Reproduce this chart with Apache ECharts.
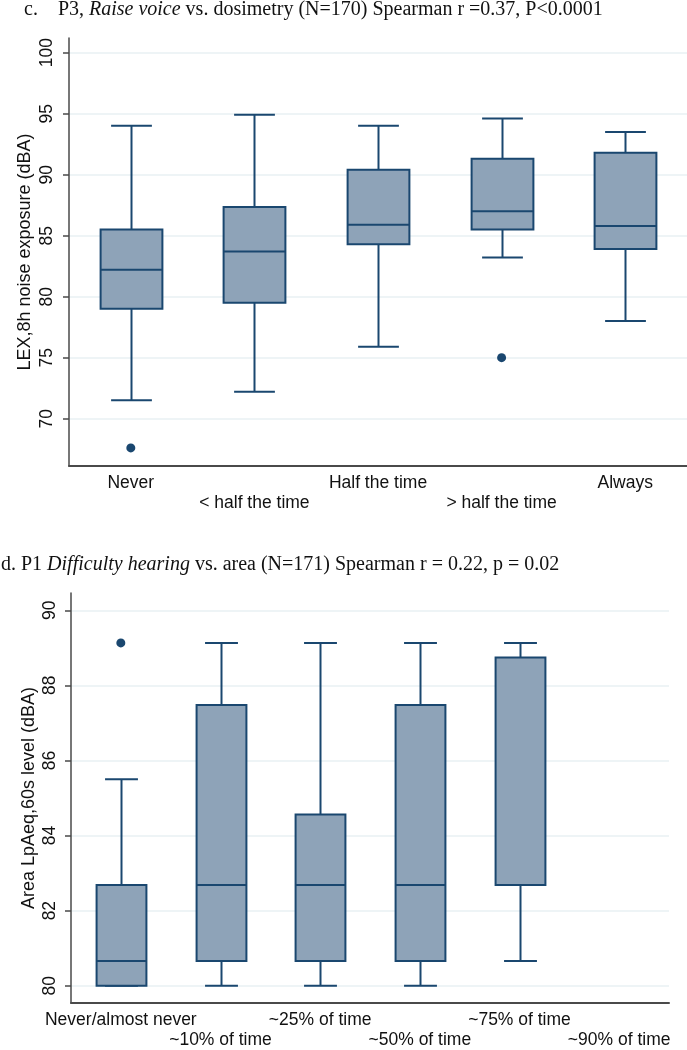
<!DOCTYPE html>
<html>
<head>
<meta charset="utf-8">
<script src="https://cdn.jsdelivr.net/npm/echarts@6/dist/echarts.min.js"></script>
<style>
html,body{margin:0;padding:0;background:#fff;}
#chart{width:687px;height:1050px;}
</style>
</head>
<body>
<div id="chart"></div>
<script>
// ---- Panel c: Raise voice vs. dosimetry ----
const topCategories = ['Never', '< half the time', 'Half the time', '> half the time', 'Always'];
const topMin    = [71.5, 72.2, 75.9, 83.2, 78.0];
const topQ1     = [79.0, 79.5, 84.3, 85.5, 83.9];
const topMedian = [82.2, 83.7, 85.9, 87.0, 85.8];
const topQ3     = [85.5, 87.35, 90.4, 91.3, 91.8];
const topMax    = [94.0, 94.9, 94.0, 94.6, 93.5];
const topOutlierCat = [0, 3];
const topOutlierVal = [67.6, 75.0];
const topTicks = [70, 75, 80, 85, 90, 95, 100];

// ---- Panel d: Difficulty hearing vs. area ----
const botCategories = ['Never/almost never', '~10% of time', '~25% of time', '~50% of time', '~75% of time', '~90% of time'];
const botMin    = [80.0, 80.0, 80.0, 80.0, 80.66, null];
const botQ1     = [80.0, 80.66, 80.66, 80.66, 82.68, null];
const botMedian = [80.66, 82.68, 82.68, 82.68, 82.68, null];
const botQ3     = [82.68, 87.48, 84.56, 87.48, 88.74, null];
const botMax    = [85.5, 89.13, 89.13, 89.13, 89.13, null];
const botOutlierCat = [0];
const botOutlierVal = [89.13];
const botTicks = [80, 82, 84, 86, 88, 90];

const NAVY = '#1a476f';
const FILL = '#8ea3b8';
const GRIDC = '#e9f1f3';
const AXISC = '#4a4a4a';
const SANS = '"Liberation Sans", Arial, sans-serif';
const SERIF = '"Liberation Serif", "Times New Roman", serif';

function boxData(mins, q1s, meds, q3s, maxs) {
  const out = [];
  for (let i = 0; i < mins.length; i++) {
    if (mins[i] == null) continue;
    out.push([i, mins[i], q1s[i], meds[i], q3s[i], maxs[i]]);
  }
  return out;
}
function outlierData(cats, vals) {
  return cats.map((c, i) => [c, vals[i]]);
}

function renderBox(params, api) {
  const cat = api.value(0);
  const lo = api.coord([cat, api.value(1)]);
  const q1 = api.coord([cat, api.value(2)]);
  const md = api.coord([cat, api.value(3)]);
  const q3 = api.coord([cat, api.value(4)]);
  const hi = api.coord([cat, api.value(5)]);
  const band = api.size([1, 0])[0];
  const hw = band * 0.25;
  const cw = band * 0.165;
  const cx = Math.round(lo[0]) + 0.5;
  const ls = {stroke: NAVY, lineWidth: 2};
  return {
    type: 'group',
    children: [
      {type: 'line', shape: {x1: cx, y1: hi[1], x2: cx, y2: q3[1]}, style: ls},
      {type: 'line', shape: {x1: cx, y1: q1[1], x2: cx, y2: lo[1]}, style: ls},
      {type: 'line', shape: {x1: cx - cw, y1: hi[1], x2: cx + cw, y2: hi[1]}, style: ls},
      {type: 'line', shape: {x1: cx - cw, y1: lo[1], x2: cx + cw, y2: lo[1]}, style: ls},
      {type: 'rect', shape: {x: cx - hw, y: q3[1], width: 2 * hw, height: q1[1] - q3[1]},
        style: {fill: FILL, stroke: NAVY, lineWidth: 2}},
      {type: 'line', shape: {x1: cx - hw, y1: md[1], x2: cx + hw, y2: md[1]}, style: ls}
    ]
  };
}

function xAxisCfg(cats, gridIndex) {
  return {
    type: 'category', gridIndex: gridIndex, data: cats, boundaryGap: true,
    axisLine: {show: true, lineStyle: {color: AXISC, width: 2}},
    axisTick: {show: false},
    splitLine: {show: false},
    axisLabel: {
      interval: 0, margin: 7, color: '#111', fontFamily: SANS, fontSize: 17.5, lineHeight: 20,
      formatter: (v, i) => (i % 2 === 1 ? '\n' + v : v)
    }
  };
}
function yAxisCfg(gridIndex, min, max, ticks, name, splitNumber, nameGap, labelMargin) {
  return {
    type: 'value', gridIndex: gridIndex, min: min, max: max, splitNumber: splitNumber,
    name: name, nameLocation: 'middle', nameGap: nameGap, nameRotate: 90, nameMoveOverlap: false,
    nameTextStyle: {fontFamily: SANS, fontSize: 18, color: '#111'},
    axisLine: {show: true, lineStyle: {color: AXISC, width: 1.5}},
    axisTick: {show: true, length: 6, lineStyle: {color: AXISC, width: 1.5}, customValues: ticks},
    axisLabel: {rotate: 90, margin: labelMargin, color: '#111', fontFamily: SANS, fontSize: 17.5,
      customValues: ticks},
    splitLine: {show: true, lineStyle: {color: GRIDC, width: 1.5}}
  };
}

const titleRich = {
  n: {fontFamily: SERIF, fontSize: 20, fontWeight: 'normal', color: '#111'},
  i: {fontFamily: SERIF, fontSize: 20, fontWeight: 'normal', fontStyle: 'italic', color: '#111'}
};

const chart = echarts.init(document.getElementById('chart'), null, {renderer: 'canvas'});
chart.setOption({
  backgroundColor: '#fff',
  animation: false,
  title: [
    {
      left: 24, top: 0, padding: 0,
      text: '{n|c.    P3, }{i|Raise voice}{n| vs. dosimetry (N=170) Spearman r =0.37, P<0.0001}',
      textStyle: {fontWeight: 'normal', rich: titleRich}
    },
    {
      left: 1, top: 555, padding: 0,
      text: '{n|d. P1 }{i|Difficulty hearing}{n| vs. area (N=171) Spearman r = 0.22, p = 0.02}',
      textStyle: {fontWeight: 'normal', rich: titleRich}
    }
  ],
  grid: [
    {left: 69, top: 38, width: 618, height: 428},
    {left: 71, top: 593, width: 598, height: 418}
  ],
  xAxis: [xAxisCfg(topCategories, 0), xAxisCfg(botCategories, 1)],
  yAxis: [
    yAxisCfg(0, 66.12, 101.2, topTicks, 'LEX,8h noise exposure (dBA)', 7, 35, 13),
    yAxisCfg(1, 79.54, 90.46, botTicks, 'Area LpAeq,60s level (dBA)', 5, 33, 12)
  ],
  series: [
    {type: 'custom', xAxisIndex: 0, yAxisIndex: 0, renderItem: renderBox,
      encode: {x: 0, y: [1, 2, 3, 4, 5]},
      data: boxData(topMin, topQ1, topMedian, topQ3, topMax), z: 3},
    {type: 'scatter', xAxisIndex: 0, yAxisIndex: 0, symbol: 'circle', symbolSize: 9,
      itemStyle: {color: NAVY, opacity: 1}, data: outlierData(topOutlierCat, topOutlierVal), z: 4},
    {type: 'custom', xAxisIndex: 1, yAxisIndex: 1, renderItem: renderBox,
      encode: {x: 0, y: [1, 2, 3, 4, 5]},
      data: boxData(botMin, botQ1, botMedian, botQ3, botMax), z: 3},
    {type: 'scatter', xAxisIndex: 1, yAxisIndex: 1, symbol: 'circle', symbolSize: 9,
      itemStyle: {color: NAVY, opacity: 1}, data: outlierData(botOutlierCat, botOutlierVal), z: 4}
  ]
});
</script>
</body>
</html>
